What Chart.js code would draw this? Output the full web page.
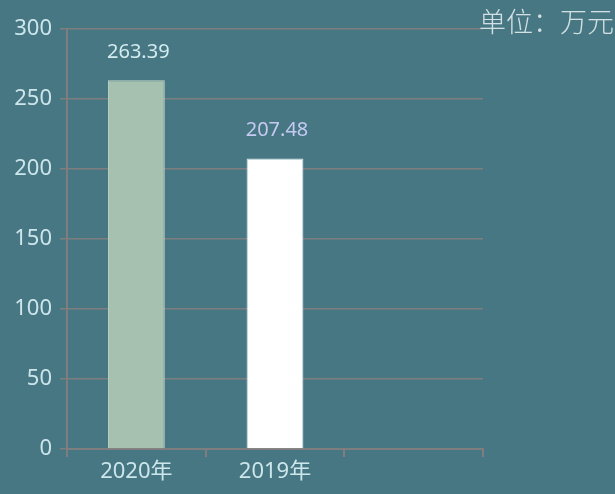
<!DOCTYPE html>
<html>
<head>
<meta charset="utf-8">
<script src="https://cdn.jsdelivr.net/npm/chart.js@4/dist/chart.umd.min.js"></script>
<style>
  html, body { margin: 0; padding: 0; background: #467783; }
  #wrap { width: 615px; height: 494px; position: relative; }
</style>
</head>
<body>
<div id="wrap"><canvas id="chart"></canvas></div>
<script>
// ===== Data =====
const categories = ['2020年', '2019年', ''];
const values = [263.39, 207.48, null];
const barColors = ['#a7c1b0', '#ffffff', '#ffffff'];
const barBorders = ['#c2d8cb', '#d5e8f0', '#d5e8f0'];
const labelColors = ['#d3ecef', '#c6c9f2', '#ffffff'];
const yTicks = [0, 50, 100, 150, 200, 250, 300];
const unitText = '单位：万元';

const FONT = "'Noto Sans', 'Noto Sans CJK SC', sans-serif";
const GRID = '#7e7e7e';

// value labels above bars + unit caption
const labelPlugin = {
  id: 'barLabels',
  afterDatasetsDraw(chart) {
    const ctx = chart.ctx;
    const meta = chart.getDatasetMeta(0);
    ctx.save();
    ctx.font = '20px ' + FONT;
    ctx.textAlign = 'center';
    ctx.textBaseline = 'middle';
    meta.data.forEach((bar, i) => {
      if (values[i] == null) return;
      ctx.fillStyle = labelColors[i];
      ctx.fillText(values[i].toFixed(2), bar.x + 2, bar.y - 28);
    });
    ctx.font = "300 27px 'Noto Sans CJK SC', sans-serif";
    ctx.fillStyle = '#d3e0e3';
    ctx.textAlign = 'right';
    ctx.fillText(unitText, 614, 22);
    ctx.restore();
  },
};

new Chart(document.getElementById('chart'), {
  type: 'bar',
  data: {
    labels: categories,
    datasets: [{
      data: values,
      backgroundColor: barColors,
      borderColor: barBorders,
      borderWidth: 1,
      barPercentage: 0.41,
      categoryPercentage: 1,
    }],
  },
  options: {
    responsive: true,
    maintainAspectRatio: false,
    animation: false,
    layout: { padding: { top: 29, right: 132, left: 0, bottom: 0 } },
    scales: {
      x: {
        grid: {
          drawOnChartArea: false,
          color: GRID,
          tickLength: 8,
          lineWidth: 2,
        },
        border: { display: true, color: GRID, width: 2 },
        ticks: { color: '#cde6ec', font: { size: 22, family: FONT }, padding: 2 },
        afterFit: (s) => { s.height = 45; },
      },
      y: {
        min: 0,
        max: 300,
        afterBuildTicks: (s) => { s.ticks = yTicks.map(v => ({ value: v })); },
        grid: { color: GRID, tickLength: 7, lineWidth: 1.5 },
        border: { display: true, color: GRID, width: 2 },
        ticks: { color: '#cde6ec', font: { size: 22, family: FONT }, padding: 8 },
        afterFit: (s) => { s.width = 67; },
      },
    },
    plugins: {
      legend: { display: false },
      tooltip: { enabled: false },
    },
  },
  plugins: [labelPlugin],
});
</script>
</body>
</html>
